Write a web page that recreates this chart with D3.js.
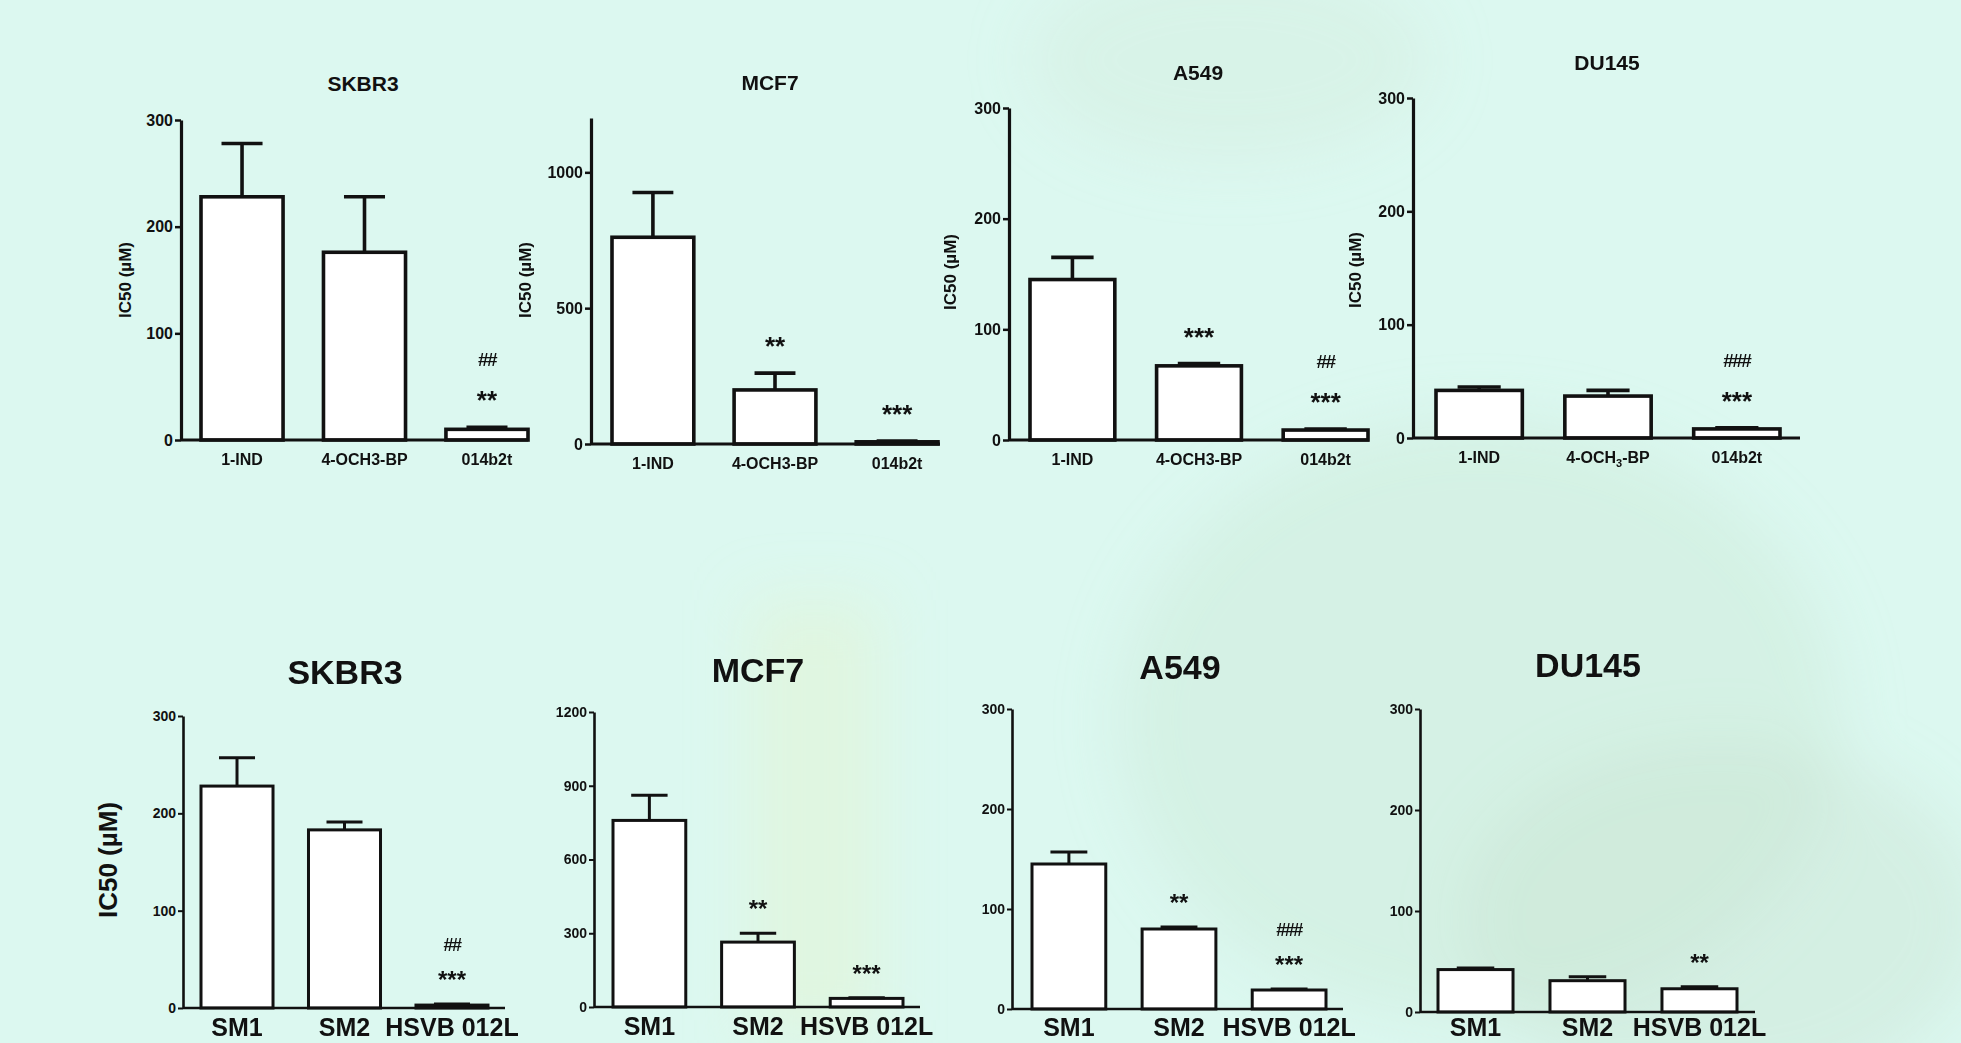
<!DOCTYPE html>
<html>
<head>
<meta charset="utf-8">
<script src="https://cdn.jsdelivr.net/npm/d3@7/dist/d3.min.js"></script>
<style>
  body { margin: 0; padding: 0; background: #dcf8f0; }
  svg { display: block; }
  text { font-family: "Liberation Sans", Arial, sans-serif; font-weight: bold; fill: #111; }
</style>
</head>
<body>
<svg></svg>
<script>
// categories
var topCats = ["1-IND", "4-OCH3-BP", "014b2t"];
var bottomCats = ["SM1", "SM2", "HSVB 012L"];

// top row : IC50 mean and error (uM)
var skbr3TopMean = [228, 176, 10];
var skbr3TopErr = [50, 52, 2];
var mcf7TopMean = [761, 199, 8];
var mcf7TopErr = [165, 62, 3];
var a549TopMean = [145, 67, 9];
var a549TopErr = [20, 2, 1];
var du145TopMean = [42, 37, 8];
var du145TopErr = [3, 5, 1];

// bottom row
var skbr3BotMean = [228, 183, 3];
var skbr3BotErr = [29, 8, 1];
var mcf7BotMean = [759, 264, 35];
var mcf7BotErr = [102, 36, 3];
var a549BotMean = [145, 80, 19];
var a549BotErr = [12, 2, 1];
var du145BotMean = [42, 31, 23];
var du145BotErr = [1.5, 4, 2];

// significance marks
var skbr3TopStars = ["", "", "**"], skbr3TopHash = ["", "", "##"];
var mcf7TopStars = ["", "**", "***"], mcf7TopHash = ["", "", ""];
var a549TopStars = ["", "***", "***"], a549TopHash = ["", "", "##"];
var du145TopStars = ["", "", "***"], du145TopHash = ["", "", "###"];
var skbr3BotStars = ["", "", "***"], skbr3BotHash = ["", "", "##"];
var mcf7BotStars = ["", "**", "***"], mcf7BotHash = ["", "", ""];
var a549BotStars = ["", "**", "***"], a549BotHash = ["", "", "###"];
var du145BotStars = ["", "", "**"], du145BotHash = ["", "", ""];

// ticks
var ticks300 = [0, 100, 200, 300];
var ticksMcf7Top = [0, 500, 1000];
var ticksMcf7Bot = [0, 300, 600, 900, 1200];

var W = 1961, H = 1043;

var svg = d3.select("svg")
    .attr("width", W)
    .attr("height", H);

// background (faint watermark)
var defs = svg.append("defs");
var blur = defs.append("filter").attr("id", "blur").attr("x", "-50%").attr("y", "-50%").attr("width", "200%").attr("height", "200%");
blur.append("feGaussianBlur").attr("stdDeviation", 30);

svg.append("rect").attr("width", W).attr("height", H).attr("fill", "#dcf8f0");
var bg = svg.append("g").attr("filter", "url(#blur)");
bg.append("ellipse").attr("cx", 1480).attr("cy", 720).attr("rx", 360).attr("ry", 300).attr("fill", "#cde8d6").attr("opacity", 0.45);
bg.append("ellipse").attr("cx", 1720).attr("cy", 920).attr("rx", 260).attr("ry", 180).attr("fill", "#c8e2cf").attr("opacity", 0.4);
bg.append("ellipse").attr("cx", 1230).attr("cy", 60).attr("rx", 200).attr("ry", 100).attr("fill", "#d2ebdb").attr("opacity", 0.4);
bg.append("rect").attr("x", 750).attr("y", 600).attr("width", 130).attr("height", 440).attr("fill", "#e4f3cf").attr("opacity", 0.45);

var panels = [
  {title: "SKBR3", cats: topCats, mean: skbr3TopMean, err: skbr3TopErr, stars: skbr3TopStars, hash: skbr3TopHash,
   ticks: ticks300, max: 300, axisX: 181, barStart: 201, barEnd: 528, axisEnd: 528, y0: 440, yMax: 120,
   titleX: 363, titleY: 91, labelX: 125, labelY: 280, big: false},
  {title: "MCF7", cats: topCats, mean: mcf7TopMean, err: mcf7TopErr, stars: mcf7TopStars, hash: mcf7TopHash,
   ticks: ticksMcf7Top, max: 1200, axisX: 591, barStart: 612, barEnd: 938, axisEnd: 940, y0: 444, yMax: 118,
   titleX: 770, titleY: 90, labelX: 525, labelY: 280, big: false},
  {title: "A549", cats: topCats, mean: a549TopMean, err: a549TopErr, stars: a549TopStars, hash: a549TopHash,
   ticks: ticks300, max: 300, axisX: 1009, barStart: 1030, barEnd: 1368, axisEnd: 1369, y0: 440, yMax: 108,
   titleX: 1198, titleY: 80, labelX: 950, labelY: 272, big: false},
  {title: "DU145", cats: topCats, mean: du145TopMean, err: du145TopErr, stars: du145TopStars, hash: du145TopHash,
   ticks: ticks300, max: 300, axisX: 1413, barStart: 1436, barEnd: 1780, axisEnd: 1800, y0: 438, yMax: 98,
   titleX: 1607, titleY: 70, labelX: 1355, labelY: 270, big: false, sub: true},
  {title: "SKBR3", cats: bottomCats, mean: skbr3BotMean, err: skbr3BotErr, stars: skbr3BotStars, hash: skbr3BotHash,
   ticks: ticks300, max: 300, axisX: 183, barStart: 201, barEnd: 488, axisEnd: 505, y0: 1008, yMax: 716,
   titleX: 345, titleY: 684, labelX: 108, labelY: 860, big: true, showLabel: true},
  {title: "MCF7", cats: bottomCats, mean: mcf7BotMean, err: mcf7BotErr, stars: mcf7BotStars, hash: mcf7BotHash,
   ticks: ticksMcf7Bot, max: 1200, axisX: 594, barStart: 613, barEnd: 903, axisEnd: 920, y0: 1007, yMax: 712,
   titleX: 758, titleY: 682, big: true},
  {title: "A549", cats: bottomCats, mean: a549BotMean, err: a549BotErr, stars: a549BotStars, hash: a549BotHash,
   ticks: ticks300, max: 300, axisX: 1012, barStart: 1032, barEnd: 1326, axisEnd: 1343, y0: 1009, yMax: 709,
   titleX: 1180, titleY: 679, big: true},
  {title: "DU145", cats: bottomCats, mean: du145BotMean, err: du145BotErr, stars: du145BotStars, hash: du145BotHash,
   ticks: ticks300, max: 300, axisX: 1420, barStart: 1438, barEnd: 1737, axisEnd: 1755, y0: 1012, yMax: 709,
   titleX: 1588, titleY: 677, big: true}
];

panels.forEach(function (p) {
    var g = svg.append("g");
    var lw = p.big ? 2.6 : 3.2;

    var x = d3.scaleBand()
        .domain(p.cats)
        .range([p.barStart, p.barEnd])
        .paddingInner(0.33)
        .paddingOuter(0);

    var y = d3.scaleLinear()
        .domain([0, p.max])
        .range([p.y0, p.yMax]);

    // title
    g.append("text")
        .attr("x", p.titleX)
        .attr("y", p.titleY)
        .attr("text-anchor", "middle")
        .style("font-size", p.big ? "34px" : "21px")
        .text(p.title);

    // y label
    if (!p.big || p.showLabel) {
        g.append("text")
            .attr("transform", "translate(" + p.labelX + "," + p.labelY + ") rotate(-90)")
            .attr("text-anchor", "middle")
            .attr("dy", "0.35em")
            .style("font-size", p.big ? "26px" : "17px")
            .text("IC50 (\u00b5M)");
    }

    // y axis
    var yAxis = g.append("g")
        .attr("transform", "translate(" + p.axisX + ",0)")
        .call(d3.axisLeft(y).tickValues(p.ticks).tickFormat(d3.format("d"))
            .tickSize(p.big ? 5 : 6).tickSizeOuter(0).tickPadding(2));
    yAxis.select(".domain").attr("stroke", "#111").attr("stroke-width", lw);
    yAxis.selectAll(".tick line").attr("stroke", "#111").attr("stroke-width", p.big ? 2 : 2.5);
    yAxis.selectAll(".tick text")
        .style("font-size", p.big ? "14px" : "16px")
        .style("font-family", "'Liberation Sans', Arial, sans-serif")
        .style("font-weight", "bold")
        .attr("fill", "#111");

    // bars
    g.selectAll(".bar")
        .data(p.cats)
        .join("rect")
        .attr("class", "bar")
        .attr("x", function (d) { return x(d); })
        .attr("y", function (d, i) { return y(p.mean[i]); })
        .attr("width", x.bandwidth())
        .attr("height", function (d, i) { return y(0) - y(p.mean[i]); })
        .attr("fill", "#fff")
        .attr("stroke", "#111")
        .attr("stroke-width", lw + 0.4);

    // error bars
    g.selectAll(".errv")
        .data(p.cats)
        .join("line")
        .attr("x1", function (d) { return x(d) + x.bandwidth() / 2; })
        .attr("x2", function (d) { return x(d) + x.bandwidth() / 2; })
        .attr("y1", function (d, i) { return y(p.mean[i]); })
        .attr("y2", function (d, i) { return y(p.mean[i] + p.err[i]); })
        .attr("stroke", "#111")
        .attr("stroke-width", lw + 0.4);
    g.selectAll(".errc")
        .data(p.cats)
        .join("line")
        .attr("x1", function (d) { return x(d) + x.bandwidth() / 4; })
        .attr("x2", function (d) { return x(d) + x.bandwidth() * 3 / 4; })
        .attr("y1", function (d, i) { return y(p.mean[i] + p.err[i]); })
        .attr("y2", function (d, i) { return y(p.mean[i] + p.err[i]); })
        .attr("stroke", "#111")
        .attr("stroke-width", lw + 0.4);

    // x baseline
    g.append("line")
        .attr("x1", p.axisX)
        .attr("x2", p.axisEnd)
        .attr("y1", y(0))
        .attr("y2", y(0))
        .attr("stroke", "#111")
        .attr("stroke-width", lw);

    // x labels (bottom row kept inside the page edge)
    var labelY = p.big ? Math.min(y(0) + 28, H - 7) : y(0) + 25;
    g.selectAll(".xl")
        .data(p.cats)
        .join("text")
        .attr("class", "xl")
        .attr("x", function (d) { return x(d) + x.bandwidth() / 2; })
        .attr("y", labelY)
        .attr("text-anchor", "middle")
        .style("font-size", p.big ? "25px" : "16px")
        .each(function (d) {
            var t = d3.select(this);
            if (p.sub && d.indexOf("OCH3") >= 0) {
                var parts = d.split("OCH3");
                t.append("tspan").text(parts[0] + "OCH");
                t.append("tspan").attr("dy", 4).style("font-size", "11px").text("3");
                t.append("tspan").attr("dy", -4).text(parts[1]);
            } else {
                t.text(d);
            }
        });

    // stars
    g.selectAll(".star")
        .data(p.cats)
        .join("text")
        .attr("class", "star")
        .attr("x", function (d) { return x(d) + x.bandwidth() / 2; })
        .attr("y", function (d, i) { return y(p.mean[i] + p.err[i]) - (p.big ? 16 : 18); })
        .attr("text-anchor", "middle")
        .style("font-size", p.big ? "24px" : "26px")
        .text(function (d, i) { return p.stars[i]; });

    g.selectAll(".hash")
        .data(p.cats)
        .join("text")
        .attr("class", "hash")
        .attr("x", function (d) { return x(d) + x.bandwidth() / 2; })
        .attr("y", function (d, i) { return y(p.mean[i] + p.err[i]) - (p.big ? 53 : 61); })
        .attr("text-anchor", "middle")
        .style("font-size", p.big ? "18px" : "19px")
        .style("letter-spacing", "-1.5px")
        .text(function (d, i) { return p.hash[i]; });
});
</script>
</body>
</html>
